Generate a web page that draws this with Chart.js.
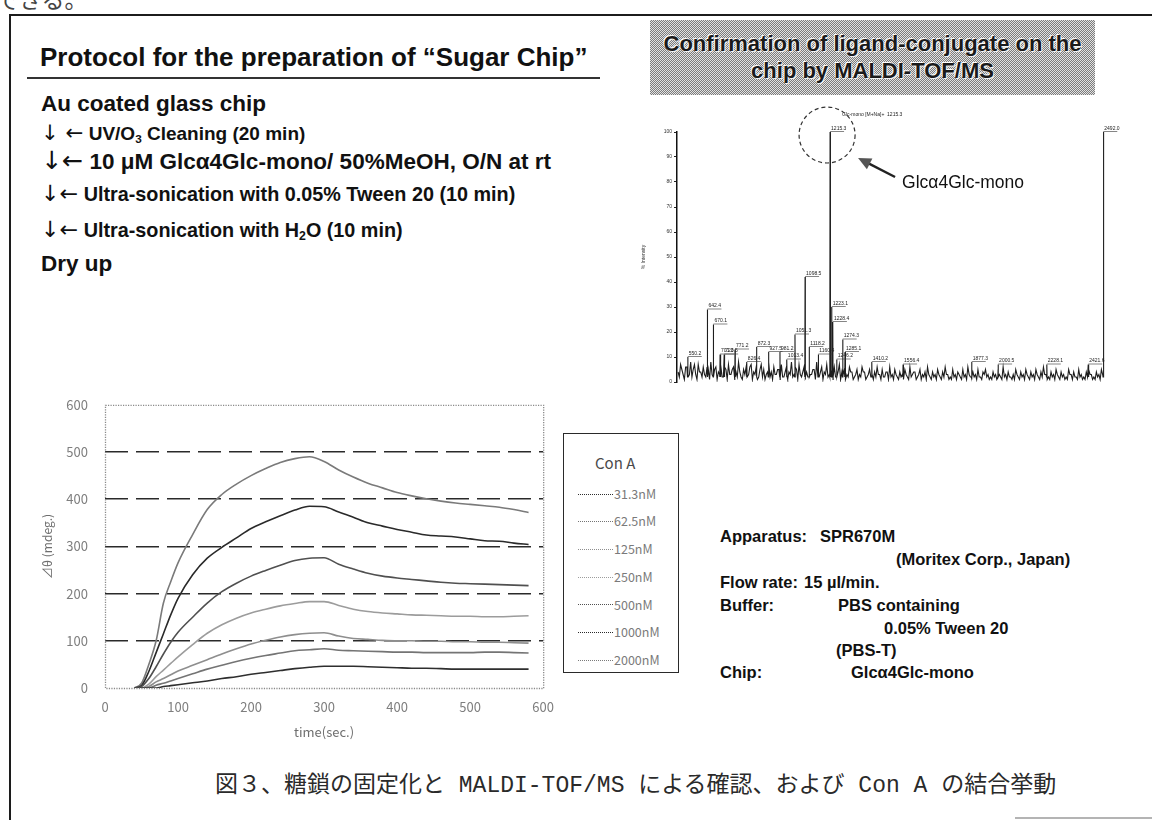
<!DOCTYPE html>
<html>
<head>
<meta charset="utf-8">
<script src="https://cdn.jsdelivr.net/npm/chart.js@4.4.1/dist/chart.umd.min.js"></script>
<style>
  html, body { margin: 0; padding: 0; background: #fff; }
  body { width: 1152px; height: 820px; position: relative; overflow: hidden;
         font-family: "Liberation Sans", Arial, sans-serif; color: #111; }
  .abs { position: absolute; white-space: nowrap; line-height: 1; }
  .b { font-weight: bold; }
  .ar { font-family: "DejaVu Sans", sans-serif; font-weight: normal; font-size: 1.12em; }
  sub { font-size: 0.62em; vertical-align: -0.25em; line-height: 0; }
  .rule { position: absolute; background: #1c1c1c; }
  #hdr { position: absolute; left: 650px; top: 20px; width: 445px; height: 75px;
         background: repeating-conic-gradient(#7c7c7c 0% 25%, #e2e2e2 0% 50%) 0 0 / 2px 2px; }
  #hdr div { position: absolute; left: 0; width: 100%; text-align: center; font-weight: bold;
             font-size: 22px; color: #1a1a1a; line-height: 1;
             text-shadow: -1px -1px 0 #fff, 1px 1px 0 #f4f4f4; }
  #legendBox { position: absolute; left: 563px; top: 433px; width: 114px; height: 238px;
               border: 1.5px solid #2a2a2a; background: #fff; z-index: 3; }
  #legendBox .ttl { position: absolute; left: 31px; top: 21px; font: 15px "Noto Sans CJK JP", sans-serif;
                    color: #4a4a4a; line-height: 1; }
  #legendBox .item { position: absolute; left: 14px; height: 14px; display: flex; align-items: center;
                     font: 12.5px "Noto Sans CJK JP", sans-serif; color: #7a7a7a; line-height: 1; }
  #legendBox .sw { width: 35px; height: 0; border-top: 1.5px dotted #8a8a8a; margin-right: 1px; }
  canvas { position: absolute; }
</style>
</head>
<body>

<!-- running text from the previous page, cut at the top edge -->
<div class="abs" style="left:-4px; top:-19px; font:23px 'Noto Sans CJK JP', sans-serif; color:#444;">できる。</div>

<!-- page frame -->
<div class="rule" style="left:10px; top:14px; width:1142px; height:2px;"></div>
<div class="rule" style="left:9px; top:14px; width:2px; height:806px;"></div>
<div class="rule" style="left:1015px; top:817px; width:137px; height:2px; background:#b4b4b4;"></div>

<!-- protocol -->
<div class="abs b" style="left:40px; top:44px; font-size:26px;">Protocol for the preparation of “Sugar Chip”</div>
<div class="rule" style="left:27px; top:77px; width:573px; height:2px; background:#333;"></div>
<div class="abs b" style="left:41px; top:93px; font-size:22.5px;">Au coated glass chip</div>
<div class="abs b" style="left:41px; top:122px; font-size:19px;"><span class="ar">↓ ←</span> UV/O<sub>3</sub> Cleaning (20 min)</div>
<div class="abs b" style="left:41px; top:148px; font-size:22.5px;"><span class="ar">↓←</span> 10 μM Glcα4Glc-mono/ 50%MeOH, O/N at rt</div>
<div class="abs b" style="left:41px; top:182px; font-size:19.8px;"><span class="ar">↓←</span> Ultra-sonication with 0.05% Tween 20 (10 min)</div>
<div class="abs b" style="left:41px; top:218px; font-size:19.8px;"><span class="ar">↓←</span> Ultra-sonication with H<sub>2</sub>O (10 min)</div>
<div class="abs b" style="left:41px; top:253px; font-size:22.5px;">Dry up</div>

<!-- MALDI header -->
<div id="hdr">
  <div style="top:13px;">Confirmation of ligand-conjugate on the</div>
  <div style="top:40px;">chip by MALDI-TOF/MS</div>
</div>

<!-- measurement conditions -->
<div class="abs b" style="left:720px; top:528px; font-size:16.5px;">Apparatus:</div>
<div class="abs b" style="left:820px; top:528px; font-size:16.5px;">SPR670M</div>
<div class="abs b" style="left:896px; top:551px; font-size:16.5px;">(Moritex Corp., Japan)</div>
<div class="abs b" style="left:720px; top:574px; font-size:16.5px;">Flow rate:</div>
<div class="abs b" style="left:804px; top:574px; font-size:16.5px;">15 µl/min.</div>
<div class="abs b" style="left:720px; top:597px; font-size:16.5px;">Buffer:</div>
<div class="abs b" style="left:838px; top:597px; font-size:16.5px;">PBS containing</div>
<div class="abs b" style="left:884px; top:620px; font-size:16.5px;">0.05% Tween 20</div>
<div class="abs b" style="left:836px; top:642px; font-size:16.5px;">(PBS-T)</div>
<div class="abs b" style="left:720px; top:664px; font-size:16.5px;">Chip:</div>
<div class="abs b" style="left:851px; top:664px; font-size:16.5px;">Glcα4Glc-mono</div>

<!-- caption -->
<div class="abs" style="left:215px; top:775px; font-size:23px; font-family:'Liberation Mono','Noto Sans CJK JP',monospace; color:#2a2a2a;">図３、糖鎖の固定化と MALDI-TOF/MS による確認、および Con A の結合挙動</div>

<canvas id="ms" width="490" height="300" style="left:640px; top:100px;"></canvas>
<canvas id="spr" width="545" height="385" style="left:20px; top:380px;"></canvas>
<div id="legendBox"><div class="ttl">Con A</div></div>

<script>
// ---------- SPR sensorgram: Con A binding ----------
const timeSec = [40, 50, 60, 70, 80, 90, 100, 120, 140, 160, 180, 200, 220, 240, 260, 280,
                 300, 320, 340, 360, 380, 400, 420, 440, 460, 480, 500, 520, 540, 560, 580];

const conALabels = ['31.3nM', '62.5nM', '125nM', '250nM', '500nM', '1000nM', '2000nM'];

const resp31 =   [0, 0, 0, 0, 3, 5, 7, 11, 15, 20, 24, 29, 33, 37, 41, 44,
                  46, 46, 46, 45, 44, 43, 42, 42, 41, 40, 40, 40, 40, 40, 40];
const resp62 =   [0, 0, 0, 6, 10, 15, 20, 30, 40, 48, 56, 63, 69, 74, 79, 81,
                  83, 80, 79, 78, 77, 76, 76, 75, 75, 75, 75, 76, 76, 75, 74];
const resp125 =  [0, 0, 3, 13, 20, 28, 36, 48, 60, 72, 83, 93, 101, 108, 113, 116,
                  117, 110, 105, 103, 101, 100, 100, 99, 99, 98, 98, 97, 97, 96, 95];
const resp250 =  [0, 0, 8, 24, 38, 52, 66, 92, 116, 134, 148, 159, 167, 174, 179, 183,
                  183, 175, 167, 162, 159, 157, 155, 154, 153, 152, 152, 151, 151, 152, 153];
const resp500 =  [0, 3, 20, 45, 72, 97, 118, 150, 180, 204, 222, 237, 249, 260, 270, 275,
                  276, 262, 252, 243, 237, 233, 230, 227, 224, 222, 221, 220, 219, 218, 217];
const resp1000 = [0, 5, 35, 75, 115, 155, 190, 240, 275, 298, 318, 338, 352, 365, 377, 385,
                  384, 373, 362, 350, 343, 336, 330, 324, 322, 320, 316, 312, 311, 307, 304];
const resp2000 = [0, 10, 50, 100, 180, 225, 265, 325, 378, 410, 432, 450, 465, 478, 486, 490,
                  480, 462, 447, 434, 424, 414, 407, 401, 396, 392, 389, 386, 383, 378, 372];

const yTicks = [0, 100, 200, 300, 400, 500, 600];
const xTicks = [0, 100, 200, 300, 400, 500, 600];

const responses = [resp31, resp62, resp125, resp250, resp500, resp1000, resp2000];
const traceColors = ['#2e2e2e', '#747474', '#8e8e8e', '#9c9c9c', '#505050', '#2a2a2a', '#7a7a7a'];

const tickFont = { family: "'Noto Sans CJK JP', sans-serif", size: 13 };

// dotted frame around the plotting area
const plotFrame = {
  id: 'plotFrame',
  afterDraw(chart) {
    const { ctx, chartArea: a } = chart;
    ctx.save();
    ctx.strokeStyle = '#8a8a8a';
    ctx.lineWidth = 1.3;
    ctx.setLineDash([1.2, 1.3]);
    ctx.strokeRect(a.left + 0.5, a.top + 0.5, a.right - a.left, a.bottom - a.top);
    ctx.restore();
  }
};

const sprChart = new Chart(document.getElementById('spr'), {
  type: 'line',
  data: {
    datasets: responses.map((r, i) => ({
      label: conALabels[i],
      data: timeSec.map((t, k) => ({ x: t, y: r[k] })),
      borderColor: traceColors[i],
      borderWidth: 1.6,
      pointRadius: 0,
      cubicInterpolationMode: 'monotone'
    }))
  },
  options: {
    responsive: false,
    animation: false,
    layout: { padding: { left: 0, right: 12, top: 16, bottom: 21 } },
    plugins: { legend: { display: false }, tooltip: { enabled: false } },
    scales: {
      x: {
        type: 'linear', min: 0, max: 600,
        afterBuildTicks: s => { s.ticks = xTicks.map(v => ({ value: v })); },
        ticks: { color: '#7e7e7e', font: tickFont, padding: 11, maxRotation: 0 },
        grid: { display: false, drawTicks: false },
        border: { display: false },
        title: { display: true, text: 'time(sec.)', color: '#6e6e6e',
                 font: tickFont, padding: { top: 0, bottom: 4 } },
        afterFit: s => { s.height = 56; }
      },
      y: {
        min: 0, max: 600,
        afterBuildTicks: s => { s.ticks = yTicks.map(v => ({ value: v })); },
        ticks: { color: '#7e7e7e', font: tickFont, padding: 17 },
        grid: {
          drawTicks: false,
          lineWidth: 1.6,
          color: c => (c.tick && c.tick.value > 0 && c.tick.value < 600) ? '#2a2a2a' : 'rgba(0,0,0,0)'
        },
        border: { display: false, dash: [23, 8] },
        title: { display: true, text: '⊿θ (mdeg.)', color: '#6e6e6e',
                 font: { family: "'Noto Sans CJK JP', sans-serif", size: 12 },
                 padding: { top: 20, bottom: 0 } },
        afterFit: s => { s.width = 85; }
      }
    }
  },
  plugins: [plotFrame]
});

// legend box built from the datasets
(function buildLegend() {
  const box = document.getElementById('legendBox');
  sprChart.data.datasets.forEach((ds, i) => {
    const row = document.createElement('div');
    row.className = 'item';
    row.style.top = (53 + i * 27.7) + 'px';
    const sw = document.createElement('span');
    sw.className = 'sw';
    sw.style.borderTopColor = ds.borderColor;
    const tx = document.createElement('span');
    tx.textContent = ds.label;
    row.appendChild(sw);
    row.appendChild(tx);
    box.appendChild(row);
  });
})();

// ---------- MALDI-TOF/MS spectrum of the chip surface ----------
const peakMz =        [550.2, 642.4, 670.1, 701.3, 720.5, 771.2, 826.4, 872.3, 927.5, 981.2,
                       1013.4, 1051.3, 1098.5, 1118.2, 1160.4, 1215.3, 1223.1, 1228.4, 1246.2,
                       1274.3, 1285.1, 1410.2, 1556.4, 1877.3, 2000.5, 2228.1, 2421.6, 2492.0];
const peakIntensity = [10, 29, 23, 11, 11, 13, 8, 14, 12, 12,
                       9, 19, 42, 14, 11, 100, 30, 24, 9,
                       17, 12, 8, 7, 8, 7, 7, 7, 100];
const ligandPeakMz = 1215.3;

// baseline noise, two interleaved sweeps sampled evenly from m/z 505 to 2495
const noiseLevels = [
  4, 7, 3, 6, 2, 8, 5, 3, 7, 4, 6, 2, 5, 8, 3, 6, 4, 7, 2, 5,
  7, 3, 6, 4, 8, 2, 5, 6, 3, 7, 4, 6, 2, 7, 5, 3, 8, 4, 6, 3,
  5, 7, 2, 6, 4, 8, 3, 5, 7, 2, 6, 4, 7, 3, 5, 8, 2, 6, 4, 7,
  3, 5, 6, 2, 7, 4, 5, 3, 6, 4, 2, 5, 3, 6, 4, 2, 5, 3, 4, 6,
  3, 5, 2, 4, 6, 3, 5, 2, 4, 3, 5, 2, 6, 3, 4, 2, 5, 3, 4, 6,
  2, 4, 3, 5, 2, 4, 6, 3, 2, 5, 3, 4, 2, 5, 3, 6, 2, 4, 3, 5,
  2, 4, 5, 3, 2, 4, 3, 5, 2, 6, 3, 4, 2, 3, 5, 2, 4, 3, 5, 2,
  4, 3, 5, 2, 4, 6, 3, 2, 4, 3, 5, 2, 4, 3, 2, 5, 3, 4, 2, 5,
  3, 2, 4, 5, 3, 2, 4, 3, 5, 4
];
const noiseLevelsB = [
  2, 5, 1, 6, 3, 2, 7, 1, 4, 2, 3, 6, 1, 3, 5, 1, 3, 2, 6, 1,
  3, 5, 1, 2, 4, 1, 3, 2, 6, 1, 3, 1, 5, 2, 1, 4, 2, 1, 3, 5,
  1, 2, 4, 1, 3, 2, 6, 1, 3, 4, 1, 2, 3, 5, 1, 2, 4, 1, 3, 2,
  5, 1, 2, 4, 1, 3, 1, 2, 4, 1, 3, 1, 2, 4, 1, 3, 2, 1, 2, 3,
  1, 2, 4, 1, 2, 1, 3, 1, 2, 1, 3, 1, 2, 4, 1, 3, 1, 2, 1, 3,
  1, 2, 1, 3, 1, 2, 3, 1, 1, 2, 1, 3, 1, 2, 1, 3, 1, 2, 1, 2,
  1, 3, 2, 1, 1, 2, 1, 3, 1, 2, 1, 2, 1, 1, 3, 1, 2, 1, 3, 1,
  2, 1, 3, 1, 2, 3, 1, 1, 2, 1, 3, 1, 2, 1, 1, 3, 1, 2, 1, 2,
  1, 1, 2, 3, 1, 1, 2, 1, 3, 2
];
const noiseFrom = 505, noiseTo = 2495;
const msTicks = [0, 10, 20, 30, 40, 50, 60, 70, 80, 90, 100];

const spectrum = [];
const noiseStep = (noiseTo - noiseFrom) / (noiseLevels.length - 1);
noiseLevels.forEach((v, i) => {
  spectrum.push({ x: noiseFrom + i * noiseStep, y: v });
  if (i < noiseLevelsB.length - 1 || i < noiseLevels.length - 1) {
    spectrum.push({ x: noiseFrom + (i + 0.5) * noiseStep, y: noiseLevelsB[i] });
  }
});
peakMz.forEach((mz, i) => {
  spectrum.push({ x: mz - 1.2, y: 2 }, { x: mz, y: peakIntensity[i] }, { x: mz + 1.2, y: 2 });
});
spectrum.sort((a, b) => a.x - b.x);

// peak annotations, circled ligand peak and callout
const msNotes = {
  id: 'msNotes',
  afterDraw(chart) {
    const { ctx, scales: { x, y } } = chart;
    ctx.save();
    ctx.fillStyle = '#222';
    ctx.strokeStyle = '#333';
    ctx.lineWidth = 0.6;
    ctx.font = '5px "Liberation Sans", sans-serif';
    ctx.textBaseline = 'bottom';
    peakMz.forEach((mz, i) => {
      if (peakIntensity[i] < 7) return;
      const px = x.getPixelForValue(mz), py = y.getPixelForValue(peakIntensity[i]);
      ctx.beginPath();
      ctx.moveTo(px, py - 0.5);
      ctx.lineTo(px + 14, py - 0.5);
      ctx.stroke();
      ctx.fillText(mz.toFixed(1), px + 1, py - 1);
    });

    const cx = x.getPixelForValue(ligandPeakMz), cy = y.getPixelForValue(100);
    ctx.fillText('Glc-mono [M+Na]+  ' + ligandPeakMz.toFixed(1), cx + 12, cy - 15);

    // dashed circle
    ctx.setLineDash([4, 3]);
    ctx.lineWidth = 1.2;
    ctx.strokeStyle = '#333';
    ctx.beginPath();
    ctx.arc(cx - 3, cy + 3, 28, 0, Math.PI * 2);
    ctx.stroke();
    ctx.setLineDash([]);

    // arrow
    const tx = cx + 65, ty = cy + 45, hx = cx + 28, hy = cy + 26;
    const ang = Math.atan2(hy - ty, hx - tx);
    ctx.strokeStyle = '#222';
    ctx.lineWidth = 2.4;
    ctx.beginPath();
    ctx.moveTo(tx, ty);
    ctx.lineTo(hx - 9 * Math.cos(ang), hy - 9 * Math.sin(ang));
    ctx.stroke();
    ctx.fillStyle = '#555';
    ctx.beginPath();
    ctx.moveTo(hx, hy);
    ctx.lineTo(hx - 13 * Math.cos(ang) + 6 * Math.sin(ang), hy - 13 * Math.sin(ang) - 6 * Math.cos(ang));
    ctx.lineTo(hx - 13 * Math.cos(ang) - 6 * Math.sin(ang), hy - 13 * Math.sin(ang) + 6 * Math.cos(ang));
    ctx.closePath();
    ctx.fill();

    ctx.fillStyle = '#111';
    ctx.font = '17.5px "Liberation Sans", Arial, sans-serif';
    ctx.textBaseline = 'middle';
    ctx.fillText('Glcα4Glc-mono', cx + 72, cy + 51);
    ctx.restore();
  }
};

new Chart(document.getElementById('ms'), {
  type: 'line',
  data: { datasets: [{ data: spectrum, borderColor: '#1e1e1e', borderWidth: 1.1, pointRadius: 0, tension: 0 }] },
  options: {
    responsive: false,
    animation: false,
    layout: { padding: { left: 0, right: 25, top: 32, bottom: 18 } },
    plugins: { legend: { display: false }, tooltip: { enabled: false } },
    scales: {
      x: { type: 'linear', min: 500, max: 2500, display: false },
      y: {
        min: 0, max: 100,
        afterBuildTicks: s => { s.ticks = msTicks.map(v => ({ value: v })); },
        ticks: { color: '#333', font: { size: 5 }, padding: 2 },
        grid: { drawOnChartArea: false, drawTicks: true, tickLength: 3, tickColor: '#222' },
        border: { display: true, color: '#111', width: 1.5 },
        title: { display: true, text: '% Intensity', color: '#333', font: { size: 5 }, padding: 1 },
        afterFit: s => { s.width = 37; }
      }
    }
  },
  plugins: [msNotes]
});
</script>
</body>
</html>
